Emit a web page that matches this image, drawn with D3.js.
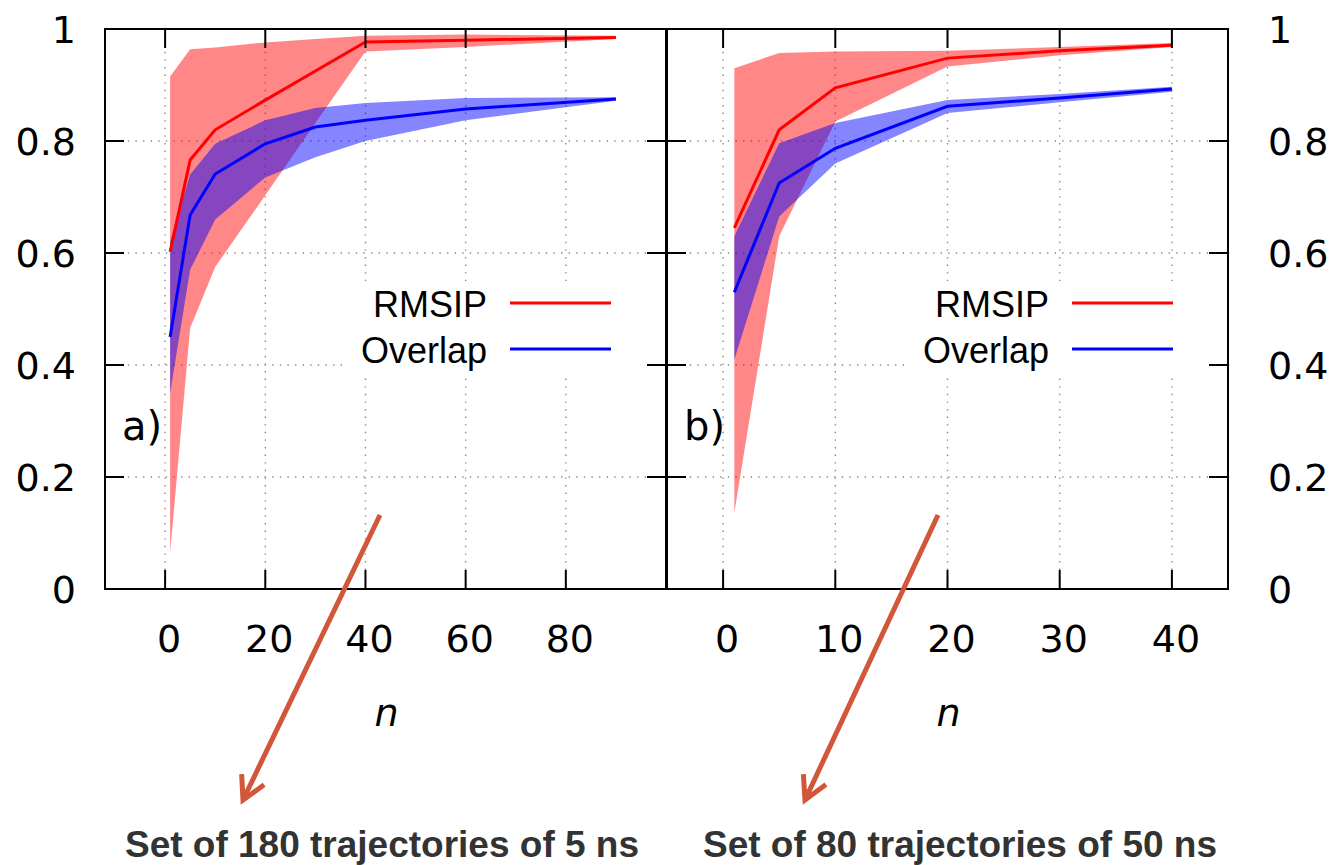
<!DOCTYPE html>
<html>
<head>
<meta charset="utf-8">
<script src="https://cdn.jsdelivr.net/npm/d3@7"></script>
<style>
  html, body { margin: 0; padding: 0; background: #fff; }
  svg { display: block; }
</style>
</head>
<body>
<svg id="chart" width="1335" height="865"></svg>
<script>
// ---------------- DATA ----------------
// Panel a) : set of 180 trajectories of 5 ns
const nA = [1, 5, 10, 20, 30, 40, 60, 90];
const rmsipA = [0.602, 0.766, 0.820, 0.873, 0.925, 0.977, 0.980, 0.985];
const rmsipALow = [0.065, 0.466, 0.575, 0.703, 0.832, 0.960, 0.968, 0.982];
const rmsipAHigh = [0.915, 0.964, 0.967, 0.976, 0.982, 0.988, 0.990, 0.988];
const overlapA = [0.450, 0.668, 0.741, 0.795, 0.825, 0.837, 0.857, 0.875];
const overlapALow = [0.350, 0.570, 0.660, 0.735, 0.771, 0.800, 0.837, 0.872];
const overlapAHigh = [0.620, 0.740, 0.795, 0.837, 0.859, 0.868, 0.877, 0.878];

// Panel b) : set of 80 trajectories of 50 ns
const nB = [1, 5, 10, 20, 30, 40];
const rmsipB = [0.645, 0.820, 0.895, 0.948, 0.961, 0.971];
const rmsipBLow = [0.136, 0.630, 0.835, 0.933, 0.953, 0.968];
const rmsipBHigh = [0.930, 0.957, 0.960, 0.961, 0.968, 0.975];
const overlapB = [0.530, 0.725, 0.787, 0.862, 0.877, 0.893];
const overlapBLow = [0.410, 0.665, 0.760, 0.850, 0.869, 0.888];
const overlapBHigh = [0.630, 0.796, 0.832, 0.873, 0.884, 0.897];

const xTicksA = [0, 20, 40, 60, 80];
const xTicksB = [0, 10, 20, 30, 40];
const yTicks = [0, 0.2, 0.4, 0.6, 0.8, 1];
const seriesNames = ["RMSIP", "Overlap"];
const panelLabels = ["a)", "b)"];
const captions = ["Set of 180 trajectories of 5 ns", "Set of 80 trajectories of 50 ns"];

// ---------------- LAYOUT ----------------
const svg = d3.select("#chart");
svg.append("rect").attr("width", 1335).attr("height", 865).attr("fill", "#fff");

const plotTop = 29, plotBottom = 589;
const yScale = d3.scaleLinear().domain([0, 1]).range([plotBottom, plotTop]);

const RED = "#ff0000", BLUE = "#0000ff";
const TICKFONT = "'DejaVu Sans', sans-serif";

function drawPanel(cfg) {
  const x = d3.scaleLinear().domain(cfg.domain).range([cfg.left, cfg.right]);
  const g = svg.append("g");
  const tickLen = 19;

  // grid
  const grid = g.append("g").attr("stroke", "#8a8a8a").attr("stroke-width", 1.4)
    .attr("stroke-dasharray", "1.4,6.2");
  cfg.xTicks.forEach(t => {
    grid.append("line").attr("x1", x(t)).attr("x2", x(t))
      .attr("y1", plotTop).attr("y2", plotBottom);
  });
  yTicks.forEach(t => {
    if (t === 0 || t === 1) return;
    grid.append("line").attr("x1", cfg.left).attr("x2", cfg.right)
      .attr("y1", yScale(t)).attr("y2", yScale(t));
  });

  // opaque key box
  g.append("rect").attr("x", cfg.right - 324).attr("y", 281)
    .attr("width", 304).attr("height", 93).attr("fill", "#fff");

  // bands
  const area = (xs, lo, hi) => d3.area()
    .x((d, i) => x(xs[i])).y0((d, i) => yScale(lo[i])).y1((d, i) => yScale(hi[i]))(xs);
  g.append("path").attr("d", area(cfg.n, cfg.rLow, cfg.rHigh))
    .attr("fill", RED).attr("fill-opacity", 0.47);
  g.append("path").attr("d", area(cfg.n, cfg.oLow, cfg.oHigh))
    .attr("fill", BLUE).attr("fill-opacity", 0.48);

  // lines
  const line = (xs, ys) => d3.line().x((d, i) => x(xs[i])).y((d, i) => yScale(ys[i]))(xs);
  g.append("path").attr("d", line(cfg.n, cfg.r)).attr("fill", "none")
    .attr("stroke", RED).attr("stroke-width", 3);
  g.append("path").attr("d", line(cfg.n, cfg.o)).attr("fill", "none")
    .attr("stroke", BLUE).attr("stroke-width", 3);

  // ticks (mirrored, inward)
  const tk = g.append("g").attr("stroke", "#000").attr("stroke-width", 2);
  cfg.xTicks.forEach(t => {
    tk.append("line").attr("x1", x(t)).attr("x2", x(t)).attr("y1", plotBottom).attr("y2", plotBottom - tickLen);
    tk.append("line").attr("x1", x(t)).attr("x2", x(t)).attr("y1", plotTop).attr("y2", plotTop + tickLen);
  });
  yTicks.forEach(t => {
    tk.append("line").attr("x1", cfg.left).attr("x2", cfg.left + tickLen).attr("y1", yScale(t)).attr("y2", yScale(t));
    tk.append("line").attr("x1", cfg.right).attr("x2", cfg.right - tickLen).attr("y1", yScale(t)).attr("y2", yScale(t));
  });

  // border
  g.append("rect").attr("x", cfg.left).attr("y", plotTop)
    .attr("width", cfg.right - cfg.left).attr("height", plotBottom - plotTop)
    .attr("fill", "none").attr("stroke", "#000").attr("stroke-width", 2);

  // x tick labels
  g.append("g").selectAll("text").data(cfg.xTicks).join("text")
    .attr("x", d => x(d) + 4).attr("y", 652)
    .attr("text-anchor", "middle").attr("font-family", TICKFONT).attr("font-size", 38)
    .attr("fill", "#000").text(d => d);

  // axis label n
  g.append("text").attr("x", (cfg.left + cfg.right) / 2 + 1).attr("y", 726)
    .attr("text-anchor", "middle").attr("font-family", TICKFONT).attr("font-style", "italic")
    .attr("font-size", 38).text("n");

  // panel label
  g.append("text").attr("x", cfg.left + 17).attr("y", 440)
    .attr("font-family", TICKFONT).attr("font-size", 40).text(cfg.label);

  // legend
  const lg = g.append("g").attr("font-family", "'Liberation Sans', Arial, sans-serif").attr("font-size", 36);
  [[seriesNames[0], RED, 303, 317], [seriesNames[1], BLUE, 349, 363]].forEach(([name, col, ly, by]) => {
    lg.append("text").attr("x", cfg.right - 179).attr("y", by).attr("text-anchor", "end").text(name);
    lg.append("line").attr("x1", cfg.right - 156).attr("x2", cfg.right - 55)
      .attr("y1", ly).attr("y2", ly).attr("stroke", col).attr("stroke-width", 3);
  });
  return x;
}

drawPanel({
  left: 105, right: 666, domain: [-12, 100], xTicks: xTicksA, label: panelLabels[0],
  n: nA, r: rmsipA, rLow: rmsipALow, rHigh: rmsipAHigh,
  o: overlapA, oLow: overlapALow, oHigh: overlapAHigh
});
drawPanel({
  left: 667, right: 1228, domain: [-5, 45], xTicks: xTicksB, label: panelLabels[1],
  n: nB, r: rmsipB, rLow: rmsipBLow, rHigh: rmsipBHigh,
  o: overlapB, oLow: overlapBLow, oHigh: overlapBHigh
});

// y tick labels: left of panel a, right of panel b
const fmt = d => (d === 0 || d === 1) ? String(d) : d3.format(".1f")(d);
svg.append("g").selectAll("text").data(yTicks).join("text")
  .attr("x", 76).attr("y", d => yScale(d) + 14).attr("text-anchor", "end")
  .attr("font-family", TICKFONT).attr("font-size", 38).text(fmt);
svg.append("g").selectAll("text").data(yTicks).join("text")
  .attr("x", 1268).attr("y", d => yScale(d) + 14).attr("text-anchor", "start")
  .attr("font-family", TICKFONT).attr("font-size", 38).text(fmt);

// annotation arrows
const ARROW = "#d2573a";
const arrows = [
  { x1: 380, y1: 515, x2: 243, y2: 800 },
  { x1: 938, y1: 515, x2: 805, y2: 800 }
];
arrows.forEach(a => {
  svg.append("line").attr("x1", a.x1).attr("y1", a.y1).attr("x2", a.x2).attr("y2", a.y2)
    .attr("stroke", ARROW).attr("stroke-width", 5);
  const ang = Math.atan2(a.y2 - a.y1, a.x2 - a.x1);
  const L = 26, spread = 0.5;
  const p1 = [a.x2 - L * Math.cos(ang - spread), a.y2 - L * Math.sin(ang - spread)];
  const p2 = [a.x2 - L * Math.cos(ang + spread), a.y2 - L * Math.sin(ang + spread)];
  svg.append("path").attr("d", `M${p1[0]},${p1[1]} L${a.x2},${a.y2} L${p2[0]},${p2[1]}`)
    .attr("fill", "none").attr("stroke", ARROW).attr("stroke-width", 5)
    .attr("stroke-linejoin", "miter").attr("stroke-linecap", "butt");
});

// captions
[[382, captions[0]], [960, captions[1]]].forEach(([cx, t]) => {
  svg.append("text").attr("x", cx).attr("y", 857).attr("text-anchor", "middle")
    .attr("font-family", "'Liberation Sans', Arial, sans-serif").attr("font-weight", "bold")
    .attr("font-size", 37).attr("fill", "#333333").text(t);
});
</script>
</body>
</html>
